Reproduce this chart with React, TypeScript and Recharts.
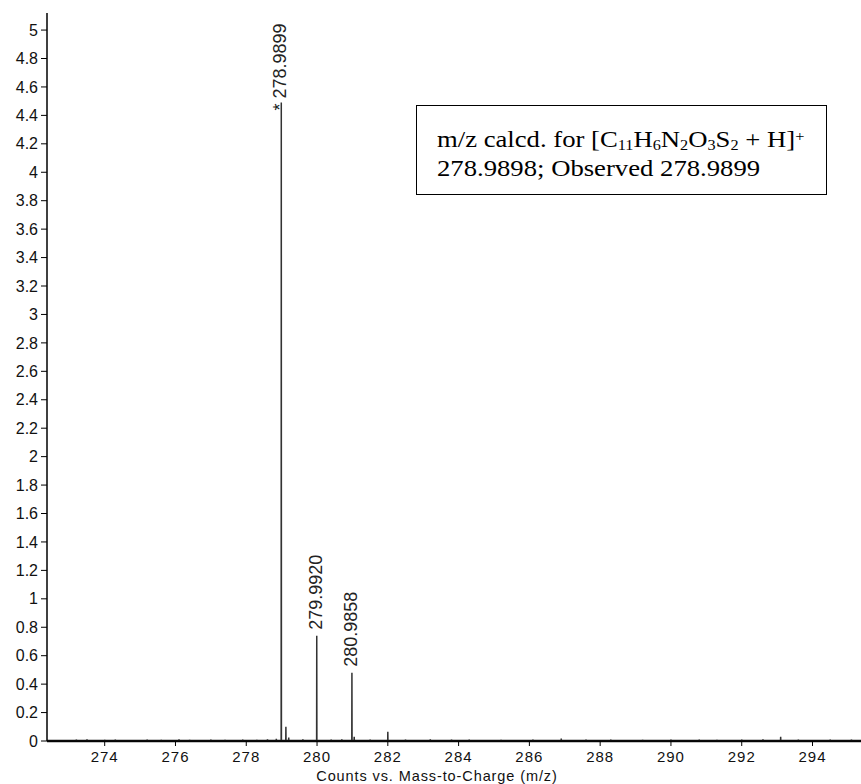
import React from 'react';
import { ComposedChart, Line, XAxis, YAxis, ReferenceLine, LabelList, Label } from 'recharts';

// centroided peaks, intensity in x10^5 counts
const peakMz = [278.9899, 279.992, 280.9858];
const peakCounts = [4.49, 0.74, 0.48];
const peakLabels = ['* 278.9899', '279.9920', '280.9858'];

// small spikes riding on the baseline
const noiseMz = [
  273.2, 273.5, 274.0, 274.3, 275.2, 275.6, 276.1, 276.4, 277.0, 277.4, 277.9, 278.3, 278.6, 278.85,
  279.12, 279.2, 279.6, 280.4, 280.7, 281.05, 281.5, 282.0, 282.5, 283.2, 283.8, 284.3, 285.2, 286.1,
  286.9, 287.6, 288.3, 289.2, 290.0, 290.8, 291.3, 292.0, 292.6, 293.1, 293.6, 294.5, 295.1,
];
const noiseCounts = [
  0.01, 0.012, 0.008, 0.01, 0.01, 0.009, 0.012, 0.008, 0.01, 0.008, 0.01, 0.009, 0.012, 0.015,
  0.1, 0.025, 0.012, 0.01, 0.012, 0.03, 0.01, 0.065, 0.01, 0.012, 0.01, 0.01, 0.008, 0.01,
  0.018, 0.01, 0.01, 0.008, 0.01, 0.01, 0.008, 0.01, 0.012, 0.03, 0.01, 0.01, 0.01,
];

const xTicks = [274, 276, 278, 280, 282, 284, 286, 288, 290, 292, 294];
const yTicks = [
  0, 0.2, 0.4, 0.6, 0.8, 1, 1.2, 1.4, 1.6, 1.8, 2, 2.2, 2.4, 2.6, 2.8, 3, 3.2, 3.4, 3.6, 3.8, 4,
  4.2, 4.4, 4.6, 4.8, 5,
];

// each peak becomes a vertical stick: 0 -> height -> 0
type Pt = { mz: number; counts: number; label?: string };
const sticks: Pt[] = [];
peakMz.forEach((m, i) => {
  sticks.push({ mz: m - 0.004, counts: 0 });
  sticks.push({ mz: m, counts: peakCounts[i], label: peakLabels[i] });
  sticks.push({ mz: m + 0.004, counts: 0 });
});
noiseMz.forEach((m, i) => {
  sticks.push({ mz: m - 0.004, counts: 0 });
  sticks.push({ mz: m, counts: noiseCounts[i] });
  sticks.push({ mz: m + 0.004, counts: 0 });
});
const spectrum: Pt[] = [{ mz: 272.37, counts: 0 }, ...sticks, { mz: 295.37, counts: 0 }].sort(
  (a, b) => a.mz - b.mz,
);

const FONT = '"Liberation Sans", Arial, sans-serif';

const PeakLabel = (props: any) => {
  const { x, y, value } = props;
  if (!value) return null;
  // the starred base peak label sits a little lower than the others
  const gap = String(value).startsWith('*') ? -8 : 6;
  const lx = x - 1;
  const ly = y - gap;
  return (
    <text
      x={lx}
      y={ly}
      transform={`rotate(-90 ${lx} ${ly})`}
      textAnchor="start"
      dominantBaseline="central"
      fontSize={18}
      fontFamily={FONT}
      fill="#222"
    >
      {value}
    </text>
  );
};

const fmtY = (v: number) => String(Number(v.toFixed(1)));

const subStyle: React.CSSProperties = { fontSize: 14, verticalAlign: '-0.2em', lineHeight: 0 };
const supStyle: React.CSSProperties = { fontSize: 14, verticalAlign: '0.45em', lineHeight: 0 };

export default function App() {
  return (
    <div style={{ position: 'absolute', left: 0, top: 0, width: 861, height: 784, background: '#fff' }}>
      <ComposedChart
        width={861}
        height={784}
        data={spectrum}
        margin={{ top: 13, right: 0, bottom: 0, left: 0 }}
      >
        <XAxis
          dataKey="mz"
          type="number"
          domain={[272.37, 295.37]}
          allowDataOverflow
          ticks={xTicks}
          height={43}
          tickSize={5}
          tickMargin={5}
          axisLine={{ stroke: '#000', strokeWidth: 1.5 }}
          tickLine={{ stroke: '#000' }}
          tick={{ fill: '#111', fontSize: 15, fontFamily: FONT, letterSpacing: 1 }}
        >
          <Label
            content={(p: any) => {
              const vb = p.viewBox;
              return (
                <text
                  x={vb.x + vb.width / 2 - 17}
                  y={780.5}
                  textAnchor="middle"
                  fontSize={14.5}
                  fontFamily={FONT}
                  fill="#111"
                  letterSpacing={0.9}
                >
                  Counts vs. Mass-to-Charge (m/z)
                </text>
              );
            }}
          />
        </XAxis>
        <YAxis
          type="number"
          domain={[0, 5.12]}
          allowDataOverflow
          ticks={yTicks}
          width={47}
          tickSize={6}
          tickMargin={3}
          tickFormatter={fmtY}
          axisLine={{ stroke: '#000', strokeWidth: 1.5 }}
          tickLine={{ stroke: '#000' }}
          tick={{ fill: '#111', fontSize: 16, fontFamily: FONT }}
        />
        <ReferenceLine y={0} stroke="#111" strokeWidth={2.5} />
        <Line
          dataKey="counts"
          type="linear"
          stroke="#333"
          strokeWidth={1.5}
          dot={false}
          activeDot={false}
          isAnimationActive={false}
        >
          <LabelList dataKey="label" content={PeakLabel} />
        </Line>
      </ComposedChart>
      <div
        style={{
          position: 'absolute',
          left: 416,
          top: 105,
          width: 411,
          height: 90,
          boxSizing: 'border-box',
          border: '1.2px solid #000',
          background: '#fff',
          color: '#000',
        }}
      >
        <div
          style={{
            position: 'absolute',
            left: 20,
            top: 19,
            fontFamily: '"Liberation Serif", "Times New Roman", serif',
            fontSize: 23,
            lineHeight: '29px',
            whiteSpace: 'nowrap',
            transform: 'scaleX(1.16)',
            transformOrigin: 'left top',
          }}
        >
          <div>
            m/z calcd. for [C<span style={subStyle}>11</span>H<span style={subStyle}>6</span>N
            <span style={subStyle}>2</span>O<span style={subStyle}>3</span>S
            <span style={subStyle}>2</span> + H]<span style={supStyle}>+</span>
          </div>
          <div>278.9898; Observed 278.9899</div>
        </div>
      </div>
    </div>
  );
}
